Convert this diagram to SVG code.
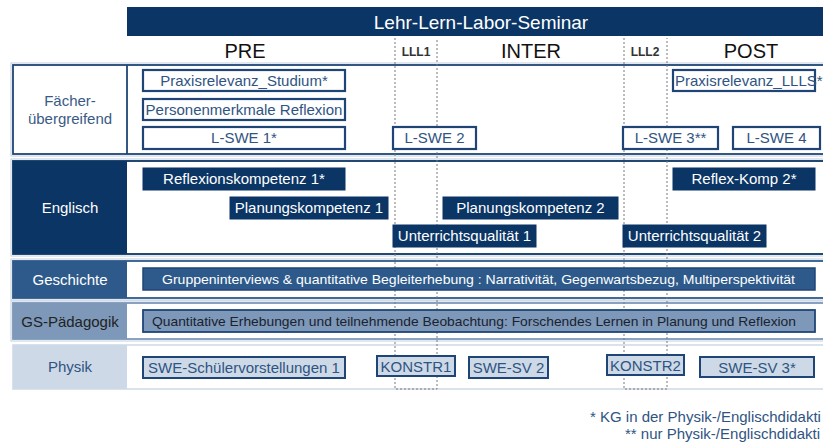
<svg xmlns="http://www.w3.org/2000/svg" width="823" height="448" viewBox="0 0 823 448">
<style>
text{font-family:"Liberation Sans",Arial,sans-serif}
.hdr{font-size:20px;fill:#111;text-anchor:middle}
.lll{font-size:12px;fill:#333;text-anchor:middle;font-weight:bold}
.lbl{font-size:15px;text-anchor:middle}
.bt{font-size:15px;text-anchor:middle}
.wbox{fill:#fff;stroke:#1f4577;stroke-width:2.2}
.wtxt{fill:#2f5483}
.nbox{fill:#0b3565;stroke:#0b3565;stroke-width:1}
.ntxt{fill:#fff}
.pbox{fill:#cdd9e6;stroke:#1f4577;stroke-width:2}
.ptxt{fill:#2f5483}
.dot{stroke:#7a7a7a;stroke-width:1;stroke-dasharray:2 2;fill:none}
.halo{fill:none;stroke:#c3d0e0;stroke-width:1}
.fn{font-size:15px;fill:#2f5483}
</style>
<rect width="823" height="448" fill="#fff"/>

<g id="title">
<rect x="127" y="7" width="710" height="29" fill="#0b3565"/>
<text x="481" y="29" font-size="19" fill="#fff" text-anchor="middle">Lehr-Lern-Labor-Seminar</text>
</g>
<g id="headers">
<text class="hdr" x="245" y="58">PRE</text>
<text class="lll" x="416" y="56">LLL1</text>
<text class="hdr" x="531" y="58">INTER</text>
<text class="lll" x="645" y="56">LLL2</text>
<text class="hdr" x="751" y="58">POST</text>
</g>

<g id="rows">
<rect class="halo" x="11" y="63" width="830" height="93"/>
<rect x="13" y="65" width="830" height="89" fill="#fff" stroke="#1f4577" stroke-width="1.8"/>
<line x1="127" y1="65" x2="127" y2="154" stroke="#1f4577" stroke-width="1.8"/>

<rect class="halo" x="11" y="159" width="830" height="97"/>
<rect x="13" y="161" width="830" height="93" fill="#fff" stroke="#0b3565" stroke-width="1.8"/>
<rect x="13" y="161" width="114" height="93" fill="#0b3565"/>

<rect class="halo" x="11" y="259" width="830" height="41"/>
<rect x="13" y="261" width="830" height="37" fill="#fff" stroke="#2d5a8b" stroke-width="1.8"/>
<rect x="13" y="261" width="114" height="37" fill="#2d5a8b"/>

<rect class="halo" x="11" y="301" width="830" height="40"/>
<rect x="13" y="303" width="830" height="36" fill="#fff" stroke="#7d98b8" stroke-width="1.8"/>
<rect x="13" y="303" width="114" height="36" fill="#7d98b8"/>

<rect x="13" y="345" width="830" height="44" fill="#fff" stroke="#d6dfea" stroke-width="1.8"/>
<rect x="13" y="345" width="114" height="44" fill="#cdd9e6"/>
</g>

<g id="row-labels">
<text class="lbl" x="70" y="106" fill="#3a5a85">Fächer-</text>
<text class="lbl" x="70" y="124" fill="#3a5a85">übergreifend</text>
<text class="lbl" x="70" y="213" fill="#fff">Englisch</text>
<text class="lbl" x="70" y="285" fill="#fff">Geschichte</text>
<text class="lbl" x="70" y="327" fill="#222">GS-Pädagogik</text>
<text class="lbl" x="70" y="372" fill="#2f5483">Physik</text>
</g>

<g id="connectors">
<path class="dot" d="M395,38 V389 H437 V38"/>
<path class="dot" d="M624,38 V389 H667 V38"/>
</g>

<g id="faecher">
<g id="praxis-studium"><rect class="wbox" x="143" y="70" width="202" height="21"/><text class="bt wtxt" x="244" y="86">Praxisrelevanz_Studium*</text></g>
<g id="personen"><rect class="wbox" x="143" y="99" width="202" height="21"/><text class="bt wtxt" x="244" y="115">Personenmerkmale Reflexion</text></g>
<g id="lswe1"><rect class="wbox" x="143" y="127" width="202" height="22"/><text class="bt wtxt" x="244" y="143">L-SWE 1*</text></g>
<g id="lswe2"><rect class="wbox" x="393" y="127" width="83" height="22"/><text class="bt wtxt" x="434.5" y="143">L-SWE 2</text></g>
<g id="lswe3"><rect class="wbox" x="623" y="127" width="95" height="22"/><text class="bt wtxt" x="670.5" y="143">L-SWE 3**</text></g>
<g id="lswe4"><rect class="wbox" x="733" y="127" width="87" height="22"/><text class="bt wtxt" x="776.5" y="143">L-SWE 4</text></g>
<g id="praxis-llls"><rect class="wbox" x="673" y="70" width="142" height="21"/><text class="bt wtxt" x="675" y="86" style="text-anchor:start">Praxisrelevanz_LLLS*</text></g>
</g>

<g id="englisch">
<g id="reflex1"><rect class="nbox" x="143" y="168" width="202" height="22"/><text class="bt ntxt" x="244" y="184">Reflexionskompetenz 1*</text></g>
<g id="plan1"><rect class="nbox" x="230" y="197" width="158" height="22"/><text class="bt ntxt" x="309" y="213">Planungskompetenz 1</text></g>
<g id="uq1"><rect class="nbox" x="393" y="225" width="143" height="22"/><text class="bt ntxt" x="464.5" y="241">Unterrichtsqualität 1</text></g>
<g id="plan2"><rect class="nbox" x="443" y="197" width="175" height="22"/><text class="bt ntxt" x="530.5" y="213">Planungskompetenz 2</text></g>
<g id="uq2"><rect class="nbox" x="623" y="225" width="143" height="22"/><text class="bt ntxt" x="694.5" y="241">Unterrichtsqualität 2</text></g>
<g id="reflex2"><rect class="nbox" x="673" y="168" width="142" height="22"/><text class="bt ntxt" x="744" y="184">Reflex-Komp 2*</text></g>
</g>

<g id="geschichte">
<rect x="143" y="268" width="672" height="22" fill="#2d5a8b" stroke="#1f4577" stroke-width="1.5"/>
<text x="162" y="284" font-size="13.5" fill="#fff" textLength="633" lengthAdjust="spacingAndGlyphs">Gruppeninterviews &amp; quantitative Begleiterhebung : Narrativität, Gegenwartsbezug, Multiperspektivität</text>
</g>

<g id="gs-paedagogik">
<rect x="143" y="310" width="672" height="22" fill="#7d98b8" stroke="#1f4577" stroke-width="1.8"/>
<text x="152" y="326" font-size="13.5" fill="#1a2230" textLength="644" lengthAdjust="spacingAndGlyphs">Quantitative Erhebungen und teilnehmende Beobachtung: Forschendes Lernen in Planung und Reflexion</text>
</g>

<g id="physik">
<g id="swe-sv1"><rect class="pbox" x="143" y="357" width="202" height="21"/><text class="bt ptxt" x="244" y="373">SWE-Schülervorstellungen 1</text></g>
<g id="konstr1"><rect class="pbox" x="377" y="356" width="78" height="20"/><text class="bt ptxt" x="416" y="372">KONSTR1</text></g>
<g id="swe-sv2"><rect class="pbox" x="469" y="357" width="79" height="21"/><text class="bt ptxt" x="508.5" y="373">SWE-SV 2</text></g>
<g id="konstr2"><rect class="pbox" x="607" y="355" width="77" height="20"/><text class="bt ptxt" x="645.5" y="371">KONSTR2</text></g>
<g id="swe-sv3"><rect class="pbox" x="700" y="357" width="114" height="20"/><text class="bt ptxt" x="757" y="373">SWE-SV 3*</text></g>
</g>

<g id="footnotes">
<text class="fn" x="590" y="422">* KG in der Physik-/Englischdidakti</text>
<text class="fn" x="625" y="439">** nur Physik-/Englischdidakti</text>
</g>
</svg>
